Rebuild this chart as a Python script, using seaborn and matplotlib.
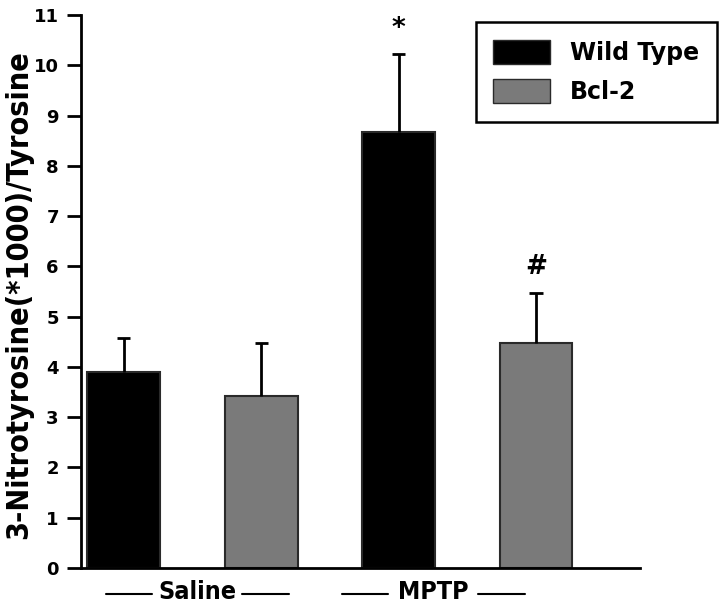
import numpy as np
import pandas as pd
import seaborn as sns
import matplotlib.pyplot as plt
from matplotlib.patches import Patch

# values
treatments = ["Saline", "Saline", "MPTP", "MPTP"]
genotypes = ["Wild Type", "Bcl-2", "Wild Type", "Bcl-2"]
means = [3.90, 3.42, 8.67, 4.47]
sems = [0.67, 1.05, 1.55, 1.01]
marks = ["", "", "*", "#"]
group_names = ["Saline", "MPTP"]

df = pd.DataFrame({"treatment": treatments, "genotype": genotypes,
                   "value": means, "sem": sems, "mark": marks})

sns.set_theme(style="white")
plt.rcParams['font.family'] = ['DejaVu Sans']
plt.rcParams['font.weight'] = 'bold'
plt.rcParams['text.color'] = 'black'
plt.rcParams['ytick.color'] = 'black'

fig = plt.figure(figsize=(7.2, 6.13), dpi=100)
ax = fig.add_axes([81/720, 1 - 568/613, (640 - 81)/720, (568 - 15)/613])

palette = {"Wild Type": "black", "Bcl-2": "#7a7a7a"}
sns.barplot(data=df, x="treatment", y="value", hue="genotype",
            order=group_names, hue_order=["Wild Type", "Bcl-2"],
            palette=palette, width=1.0, gap=0.47, errorbar=None,
            edgecolor="#2a2a2a", linewidth=1.5, saturation=1, legend=False, ax=ax)

# error bars (upper only) and significance marks
bars = sorted(ax.patches, key=lambda p: p.get_x())
for bar, (_, row) in zip(bars, df.iterrows()):
    cx = bar.get_x() + bar.get_width() / 2
    top = row["value"] + row["sem"]
    ax.vlines(cx, row["value"], top, color="black", lw=2, zorder=1)
    ax.hlines(top, cx - 0.024, cx + 0.024, color="black", lw=2, zorder=1)
    if row["mark"]:
        ax.text(cx, top + 0.25, row["mark"], ha="center",
                va="bottom", fontsize=19, fontweight="bold")

ax.set_xlim(-0.405, 1.628)
ax.set_ylim(0, 11)
ax.set_yticks(range(0, 12))
ax.set_yticklabels([str(i) for i in range(0, 12)], fontsize=13, fontweight="bold")
ax.tick_params(axis="y", direction="out", length=10, width=2, left=True, pad=6)
ax.set_xticks([])
ax.set_xlabel("")
ax.set_ylabel("")
fig.text(19/720, 1 - 295/613, "3-Nitrotyrosine(*1000)/Tyrosine", rotation=90,
         ha="center", va="center", fontsize=22, fontweight="bold",
         fontstretch="condensed")

sns.despine(ax=ax)
for side in ["left", "bottom"]:
    ax.spines[side].set_linewidth(2)
    ax.spines[side].set_color("black")

# group labels with rules either side (slightly left of the bar pairs, as drawn)
trans = ax.get_xaxis_transform()
label_x = [0.018, 0.876]
for x0, name in zip(label_x, group_names):
    ax.text(x0, -0.043, name, transform=trans, ha="center", va="center",
            fontsize=18, fontweight="bold", fontstretch="condensed", clip_on=False)
    ax.plot([x0 - 0.332, x0 - 0.164], [-0.047, -0.047], transform=trans,
            color="black", lw=1.5, clip_on=False)
    ax.plot([x0 + 0.164, x0 + 0.332], [-0.047, -0.047], transform=trans,
            color="black", lw=1.5, clip_on=False)

handles = [Patch(facecolor=palette[g], edgecolor="#2a2a2a", label=g)
           for g in ["Wild Type", "Bcl-2"]]
leg = fig.legend(handles=handles, loc="upper right", bbox_to_anchor=(717/720, 1 - 22/613),
                 frameon=True, fancybox=False, edgecolor="black", framealpha=1,
                 handlelength=2.4, handleheight=1.2, borderpad=0.75, labelspacing=0.6,
                 handletextpad=0.85, borderaxespad=0,
                 prop={"size": 17, "weight": "bold"})
leg.get_frame().set_linewidth(1.8)

fig.savefig("out.png", dpi=100)
